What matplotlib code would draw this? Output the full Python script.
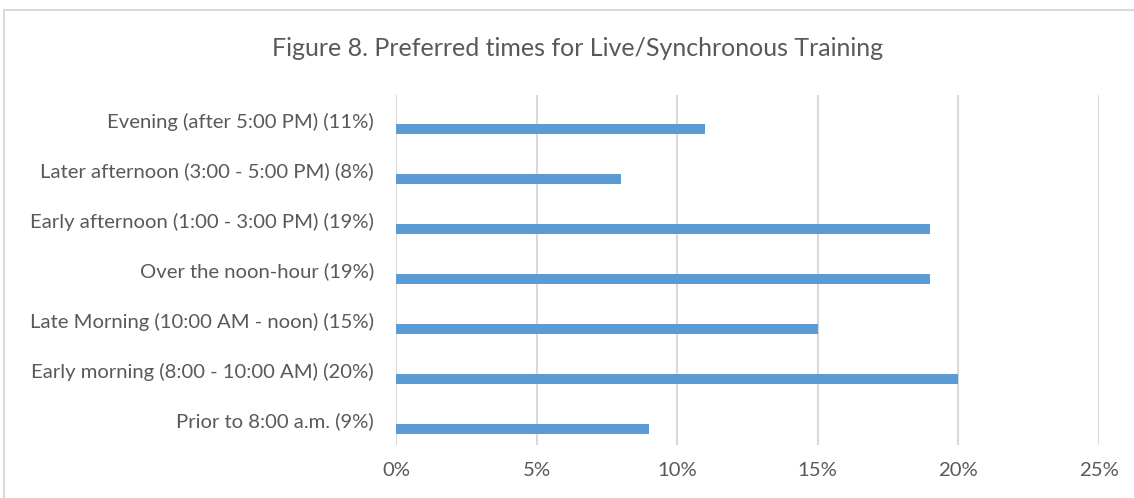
import matplotlib
matplotlib.use("Agg")
import matplotlib.pyplot as plt
from matplotlib.patches import Rectangle
from matplotlib.ticker import FuncFormatter

categories = [
    "Evening (after 5:00 PM) (11%)",
    "Later afternoon (3:00 - 5:00 PM) (8%)",
    "Early afternoon (1:00 - 3:00 PM) (19%)",
    "Over the noon-hour (19%)",
    "Late Morning (10:00 AM - noon) (15%)",
    "Early morning (8:00 - 10:00 AM) (20%)",
    "Prior to 8:00 a.m. (9%)",
]
values = [11, 8, 19, 19, 15, 20, 9]
xticks = [0, 5, 10, 15, 20, 25]
title = "Figure 8. Preferred times for Live/Synchronous Training"

plt.rcParams['font.family'] = ['Lato', 'DejaVu Sans']
W, H = 1134, 498
fig = plt.figure(figsize=(W / 100, H / 100), dpi=100)
fig.patch.set_facecolor("white")

# chart frame
fig.add_artist(Rectangle((4 / W, -0.1), 1.2, 1 - 10 / H + 0.1, transform=fig.transFigure,
                         fill=False, edgecolor="#D9D9D9", linewidth=1.5))

ax = fig.add_axes([396 / W, 1 - 445 / H, (1099 - 396) / W, (445 - 95) / H])
n = len(categories)
pos = list(range(n))
ax.barh([p + 0.18 for p in pos], values, height=0.2, color="#5B9BD5", zorder=3)
ax.set_ylim(n - 0.5, -0.5)
ax.set_xlim(0, 25)
ax.set_yticks(pos)
ax.set_yticklabels(categories)
ax.set_xticks(xticks)
ax.xaxis.set_major_formatter(FuncFormatter(lambda v, p: f"{int(v)}%"))
ax.tick_params(axis="both", length=0, colors="#595959", labelsize=14.6)
ax.tick_params(axis="y", pad=15.8)
ax.tick_params(axis="x", pad=12)
ax.grid(axis="x", color="#D9D9D9", linewidth=1.5, zorder=0)
for s in ax.spines.values():
    s.set_visible(False)
ax.set_facecolor("none")

fig.text(578 / W, 1 - 48 / H, title, ha="center", va="center", fontsize=18, color="#595959")

fig.savefig("out.png", dpi=100, facecolor="white")
